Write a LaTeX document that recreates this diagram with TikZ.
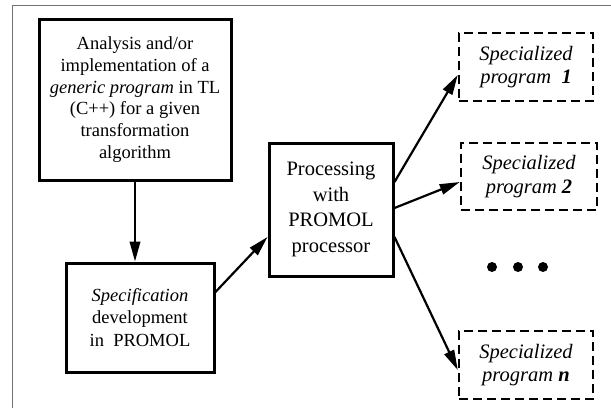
\documentclass[tikz,border=0pt]{standalone}
\usepackage{fontspec}
\setmainfont{Liberation Serif}
\usetikzlibrary{arrows.meta}
\begin{document}
\begin{tikzpicture}[x=1pt,y=-1pt,
  solidbox/.style={draw,line width=3pt,rectangle,align=center,inner sep=0pt},
  dashbox/.style={draw,line width=2.5pt,dash pattern=on 9pt off 5pt,rectangle,align=center,inner sep=0pt,
    font=\fontsize{20.5}{23.5}\selectfont\itshape},
  flow/.style={line width=2.2pt,-{Triangle[length=20pt,width=10.5pt]}},
  dot/.style={circle,fill,inner sep=0pt,minimum size=10pt}]
\useasboundingbox (0,0) rectangle (611,408);
% outer frame
\draw[line width=0.9pt,black!55] (12,408) -- (12,5) -- (611,5);

\node[solidbox,minimum width=192pt,minimum height=161pt,font=\fontsize{18.5}{21.8}\selectfont]
  (gen) at (135,99.5) {Analysis and/or\\implementation of a\\\textit{generic program} in TL\\(C++) for a given\\transformation\\algorithm};
\node[solidbox,minimum width=148pt,minimum height=109pt,font=\fontsize{18.5}{22.5}\selectfont]
  (spec) at (140,317.5) {\textit{Specification}\\development\\in\ \ PROMOL};
\node[solidbox,minimum width=124pt,minimum height=133pt,font=\fontsize{20.5}{25.5}\selectfont]
  (proc) at (331,209.5) {Processing\\with\\PROMOL\\processor};

\node[dashbox,minimum width=134pt,minimum height=68pt] (sp1) at (526,67)
  {Specialized\\program\ \ \textbf{\textit{1}}};
\node[dashbox,minimum width=136pt,minimum height=67pt] (sp2) at (529,176.5)
  {Specialized\\program \textbf{\textit{2}}};
\node[dashbox,minimum width=134pt,minimum height=68pt] (spn) at (526,365)
  {Specialized\\program \textbf{\textit{n}}};

\node[dot] (d1) at (492,267) {};
\node[dot] (d2) at (518,267) {};
\node[dot] (d3) at (543,267) {};

\draw[flow] (gen.south) -- (gen.south |- spec.north);
\draw[flow] ([yshift=25.5pt]spec.east) -- ([yshift=-27.5pt]proc.west);
\draw[flow] ([yshift=27.5pt]proc.east) -- ([yshift=-8pt]sp1.west);
\draw[flow] ([yshift=1.5pt]proc.east) -- ([yshift=-5.5pt]sp2.west);
\draw[flow] ([yshift=-27.5pt]proc.east) -- ([yshift=-5pt]spn.west);
\end{tikzpicture}
\end{document}
